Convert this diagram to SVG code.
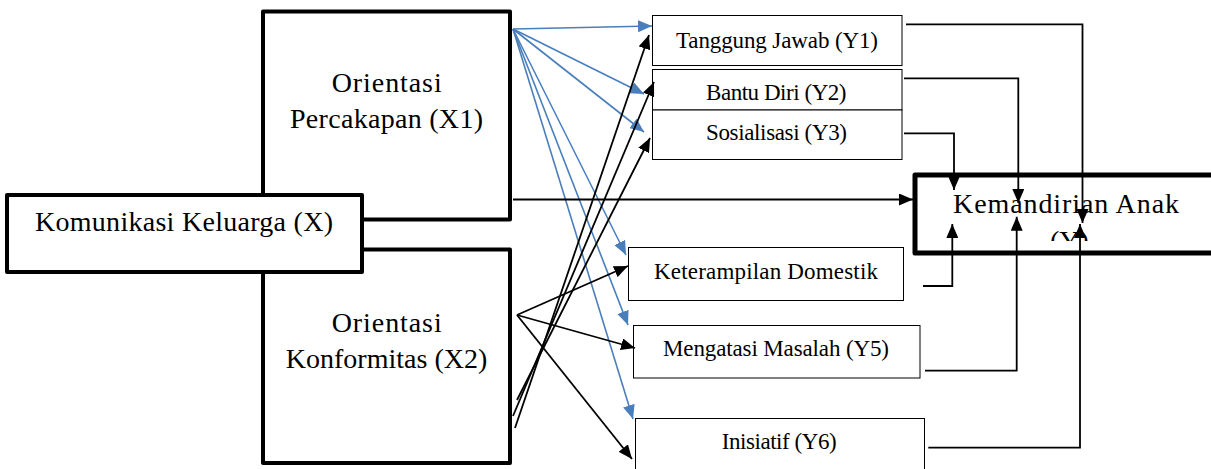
<svg xmlns="http://www.w3.org/2000/svg" width="1211" height="469" viewBox="0 0 1211 469">
<style>
.big{fill:#fff;stroke:#000;stroke-width:4;stroke-linejoin:round}
.kem{fill:#fff;stroke:#000;stroke-width:5;stroke-linejoin:round}
.sm{fill:#fff;stroke:#000;stroke-width:1}
.t{font-family:"Liberation Serif","Times New Roman",serif;fill:#000}
.tl{font-size:28px}
.ts{font-size:23px}
.k{fill:none;stroke:#000;stroke-width:1.8}
.b{fill:none;stroke:#4A7EBB;stroke-width:1.6}
</style>
<defs>
<marker id="ak" markerUnits="userSpaceOnUse" markerWidth="14" markerHeight="12" refX="14" refY="6" orient="auto"><path d="M0,0 L14,6 L0,12 z" fill="#000"/></marker>
<marker id="ab" markerUnits="userSpaceOnUse" markerWidth="14" markerHeight="12" refX="14" refY="6" orient="auto"><path d="M0,0 L14,6 L0,12 z" fill="#4A7EBB"/></marker>
<clipPath id="kc"><rect x="915" y="175" width="300" height="66"/></clipPath>
</defs>
<g id="X1"><rect class="big" x="263" y="11.5" width="247" height="208"/>
<text class="t tl" x="331.7" y="92" textLength="110">Orientasi</text>
<text class="t tl" x="290" y="128" textLength="193">Percakapan (X1)</text></g>
<g id="X2"><rect class="big" x="263" y="249.5" width="247" height="213.5"/>
<text class="t tl" x="331.7" y="332" textLength="110">Orientasi</text>
<text class="t tl" x="285.7" y="368" textLength="201.6">Konformitas (X2)</text></g>
<g id="X"><rect class="big" x="7" y="195" width="355" height="77"/>
<text class="t tl" x="35" y="231" textLength="298">Komunikasi Keluarga (X)</text></g>
<g id="Y1"><rect class="sm" x="652.5" y="15.5" width="249.5" height="50"/>
<text class="t ts" x="676" y="47.5" textLength="202">Tanggung Jawab (Y1)</text></g>
<g id="Y2"><rect class="sm" x="652.5" y="69.5" width="249.5" height="40.5"/>
<text class="t ts" x="706" y="100" textLength="140.5">Bantu Diri (Y2)</text></g>
<g id="Y3"><rect class="sm" x="652.5" y="110" width="249.5" height="49.5"/>
<text class="t ts" x="706" y="140" textLength="141">Sosialisasi (Y3)</text></g>
<g id="Y4"><rect class="sm" x="628.5" y="247.5" width="275" height="53"/>
<text class="t ts" x="654" y="279" textLength="224">Keterampilan Domestik</text></g>
<g id="Y5"><rect class="sm" x="633.5" y="325.5" width="286.5" height="52.5"/>
<text class="t ts" x="663" y="355.5" textLength="226">Mengatasi Masalah (Y5)</text></g>
<g id="Y6"><rect class="sm" x="635.5" y="418.5" width="289" height="60"/>
<text class="t ts" x="721.7" y="449.3" textLength="115">Inisiatif (Y6)</text></g>
<g id="Y"><rect class="kem" x="915" y="175" width="310" height="78"/>
<text class="t tl" x="953" y="212.7" textLength="226">Kemandirian Anak</text>
<text class="t tl" x="1050" y="250" clip-path="url(#kc)">(Y)</text></g>
<g id="connectors">
<line class="b" x1="513" y1="29" x2="652" y2="26" marker-end="url(#ab)"/>
<line class="b" x1="513" y1="29" x2="644" y2="94" marker-end="url(#ab)"/>
<line class="b" x1="513" y1="29" x2="644" y2="132" marker-end="url(#ab)"/>
<line class="b" x1="513" y1="29" x2="626" y2="255" marker-end="url(#ab)"/>
<line class="b" x1="513" y1="29" x2="628" y2="325" marker-end="url(#ab)"/>
<line class="b" x1="513" y1="29" x2="633" y2="419" marker-end="url(#ab)"/>
<line class="k" x1="517" y1="315" x2="628" y2="266" marker-end="url(#ak)"/>
<line class="k" x1="517" y1="315" x2="635" y2="348" marker-end="url(#ak)"/>
<line class="k" x1="517" y1="315" x2="632" y2="459" marker-end="url(#ak)"/>
<line class="k" x1="515" y1="428" x2="649" y2="35" marker-end="url(#ak)"/>
<line class="k" x1="513" y1="416" x2="654" y2="82" marker-end="url(#ak)"/>
<line class="k" x1="517" y1="400" x2="650" y2="138" marker-end="url(#ak)"/>
<line class="k" x1="513" y1="199.5" x2="913" y2="199.5" marker-end="url(#ak)"/>
<path class="k" d="M906,24.3 H1082.5 V223" marker-end="url(#ak)"/>
<path class="k" d="M904,78.3 H1018.3 V203" marker-end="url(#ak)"/>
<path class="k" d="M904,133.3 H954 V190" marker-end="url(#ak)"/>
<path class="k" d="M923,286 H952.3 V224" marker-end="url(#ak)"/>
<path class="k" d="M925,370.7 H1016.7 V216.7" marker-end="url(#ak)"/>
<path class="k" d="M928.3,447.7 H1080 V224" marker-end="url(#ak)"/>
</g>
</svg>
